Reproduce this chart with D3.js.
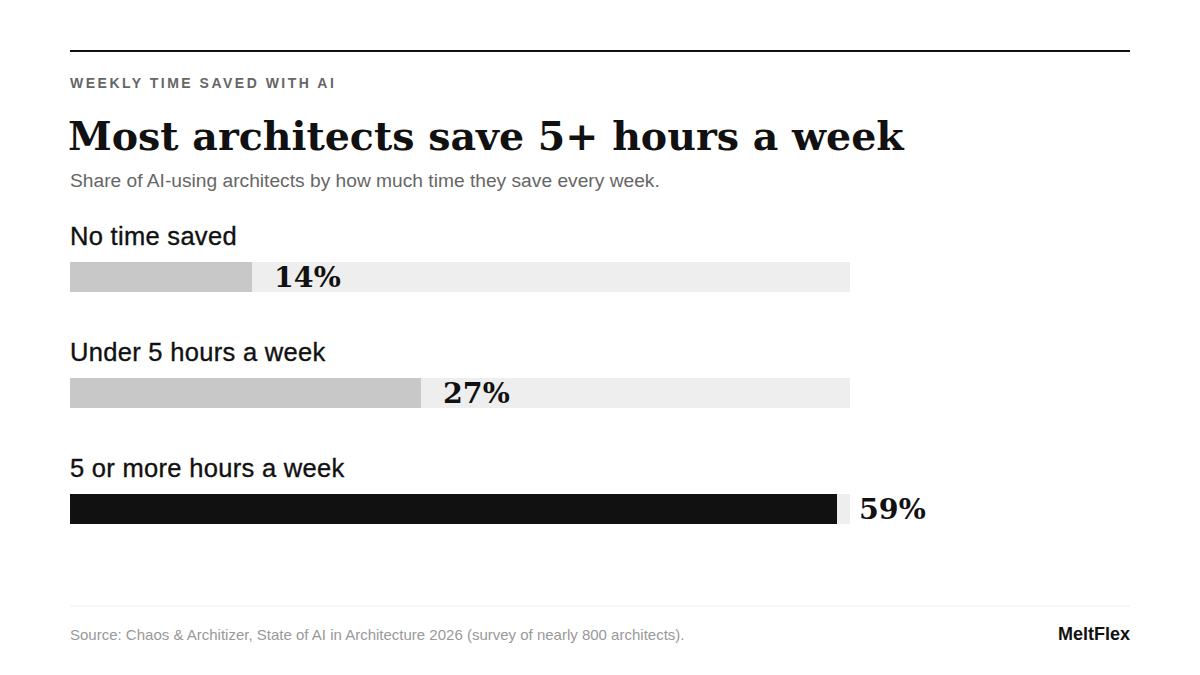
<body style="margin:0;background:#fff">
<script src="https://d3js.org/d3.v7.min.js"></script>
<script>
const W = 1200, H = 675;

const categories = ['No time saved', 'Under 5 hours a week', '5 or more hours a week'];
const shares = [14, 27, 59];
const highlight = [false, false, true];

const sans = '"Liberation Sans", Arial, Helvetica, sans-serif';
const serif = '"DejaVu Serif", Georgia, serif';

const svg = d3.select('body').append('svg')
  .attr('width', W)
  .attr('height', H);

svg.append('rect').attr('width', W).attr('height', H).attr('fill', '#fff');

// header
svg.append('line')
  .attr('x1', 70).attr('x2', 1130).attr('y1', 51).attr('y2', 51)
  .attr('stroke', '#111').attr('stroke-width', 2);

svg.append('text')
  .attr('x', 70).attr('y', 88)
  .attr('font-family', sans).attr('font-size', 14).attr('font-weight', 700)
  .attr('letter-spacing', 2.5).attr('fill', '#666')
  .text('WEEKLY TIME SAVED WITH AI');

svg.append('text')
  .attr('x', 68).attr('y', 150)
  .attr('font-family', serif).attr('font-size', 39.5).attr('font-weight', 700)
  .attr('fill', '#111')
  .text('Most architects save 5+ hours a week');

svg.append('text')
  .attr('x', 70).attr('y', 187)
  .attr('font-family', sans).attr('font-size', 19.2).attr('fill', '#666')
  .text('Share of AI-using architects by how much time they save every week.');

// bars
const x = d3.scaleLinear().domain([0, 60]).range([70, 850]);
const y = d3.scaleBand().domain(categories).range([230, 578]);

const rows = svg.append('g').selectAll('g')
  .data(categories)
  .join('g')
  .attr('transform', d => `translate(0,${y(d)})`);

rows.append('text')
  .attr('x', 70).attr('y', 14.5)
  .attr('font-family', sans).attr('font-size', 25.5).attr('fill', '#111')
  .attr('stroke', '#111').attr('stroke-width', 0.35)
  .attr('letter-spacing', 0.3)
  .text(d => d);

rows.append('rect')
  .attr('x', x(0)).attr('y', 32)
  .attr('width', x(60) - x(0)).attr('height', 30)
  .attr('fill', '#eeeeee');

rows.append('rect')
  .attr('x', x(0)).attr('y', 32)
  .attr('width', (d, i) => x(shares[i]) - x(0)).attr('height', 30)
  .attr('fill', (d, i) => highlight[i] ? '#111111' : '#c8c8c8');

rows.append('text')
  .attr('x', (d, i) => x(shares[i]) + 22).attr('y', 57)
  .attr('font-family', serif).attr('font-size', 28.5).attr('font-weight', 700)
  .attr('fill', '#111')
  .text((d, i) => shares[i] + '%');

// footer
svg.append('line')
  .attr('x1', 70).attr('x2', 1130).attr('y1', 606).attr('y2', 606)
  .attr('stroke', '#eeeeee').attr('stroke-width', 1);

svg.append('text')
  .attr('x', 70).attr('y', 640)
  .attr('font-family', sans).attr('font-size', 15).attr('fill', '#999')
  .text('Source: Chaos & Architizer, State of AI in Architecture 2026 (survey of nearly 800 architects).');

svg.append('text')
  .attr('x', 1130).attr('y', 640).attr('text-anchor', 'end')
  .attr('font-family', sans).attr('font-size', 18).attr('font-weight', 700)
  .attr('fill', '#111')
  .text('MeltFlex');
</script>
</body>
